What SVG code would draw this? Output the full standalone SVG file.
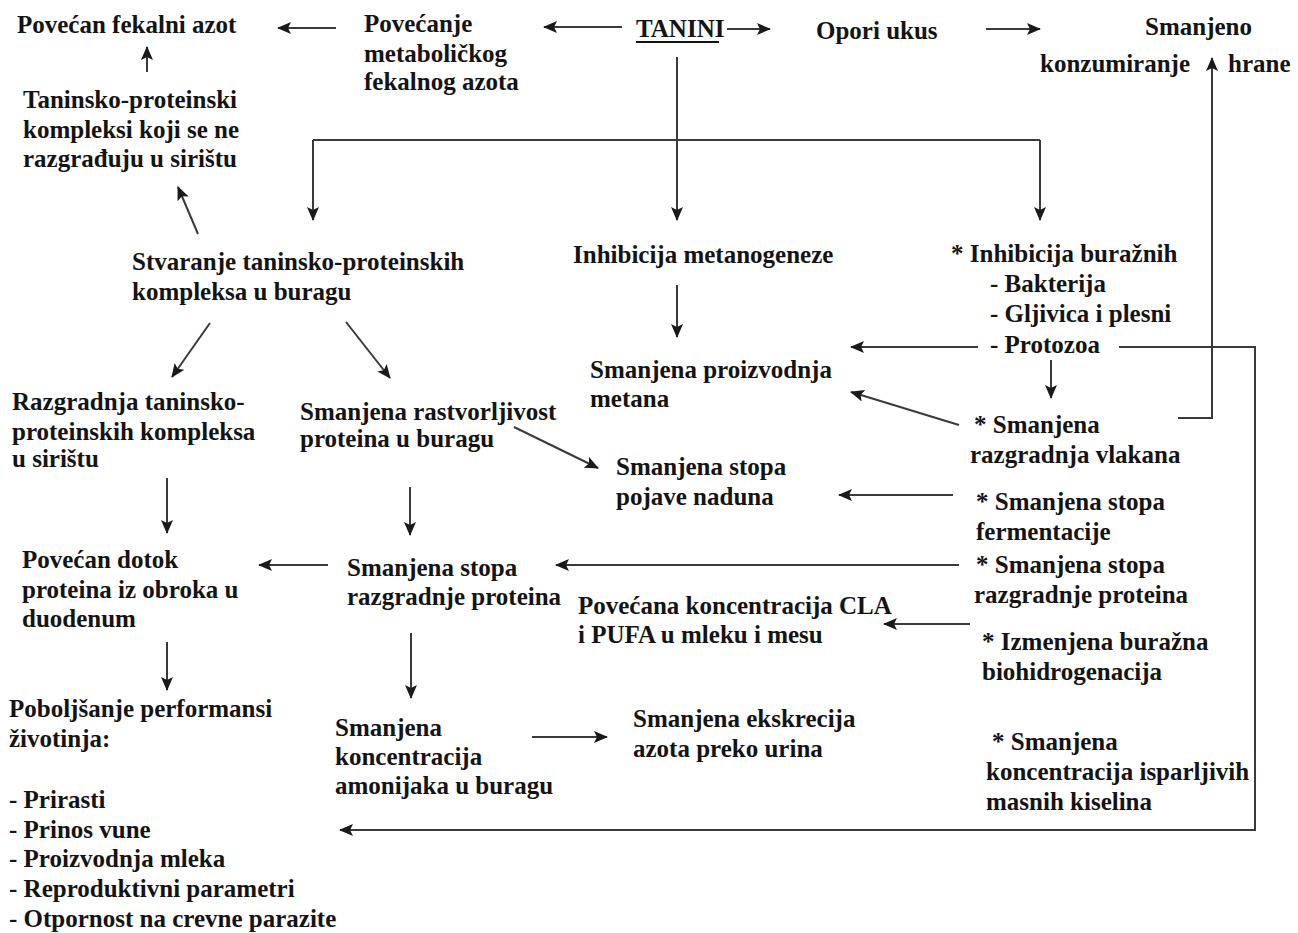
<svg xmlns="http://www.w3.org/2000/svg" width="1298" height="933" viewBox="0 0 1298 933">
<defs>
<style>
text{font-family:"Liberation Serif","Times New Roman",serif;font-weight:bold;font-size:25px;fill:#141414}
.c path,.c line{stroke:#3a3a3a;stroke-width:2;fill:none}
.a{marker-end:url(#ah)}
</style>
<marker id="ah" viewBox="0 0 14 12" refX="13" refY="6" markerWidth="14" markerHeight="12" markerUnits="userSpaceOnUse" orient="auto">
<path d="M0,0 L14,6 L0,12 L3,6 Z" fill="#1a1a1a"/>
</marker>
</defs>
<rect width="1298" height="933" fill="#fff"/>
<g class="c" id="connectors">
<line class="a" x1="336" y1="28" x2="278" y2="28"/>
<line class="a" x1="622" y1="27" x2="544" y2="27"/>
<line class="a" x1="727" y1="29" x2="770" y2="29"/>
<line class="a" x1="986" y1="29" x2="1040" y2="29"/>
<line class="a" x1="147" y1="72" x2="147" y2="47"/>
<line class="a" x1="198" y1="234" x2="178" y2="187"/>
<path d="M313,140 H1040"/>
<line class="a" x1="313" y1="140" x2="313" y2="220"/>
<line class="a" x1="1040" y1="140" x2="1040" y2="220"/>
<line class="a" x1="677" y1="57" x2="677" y2="220"/>
<line class="a" x1="677" y1="285" x2="677" y2="337"/>
<line class="a" x1="210" y1="323" x2="172" y2="377"/>
<line class="a" x1="346" y1="322" x2="390" y2="378"/>
<line class="a" x1="514" y1="427" x2="598" y2="468"/>
<line class="a" x1="978" y1="347" x2="851" y2="347"/>
<line class="a" x1="1051" y1="360" x2="1051" y2="398"/>
<line class="a" x1="959" y1="425" x2="851" y2="392"/>
<path class="a" d="M1178,418 H1212 V58"/>
<path class="a" d="M1119,347 H1255 V830 H340"/>
<line class="a" x1="953" y1="495" x2="839" y2="495"/>
<line class="a" x1="959" y1="565" x2="556" y2="565"/>
<line class="a" x1="970" y1="624" x2="884" y2="624"/>
<line class="a" x1="167" y1="478" x2="167" y2="533"/>
<line class="a" x1="410" y1="487" x2="410" y2="535"/>
<line class="a" x1="328" y1="565" x2="259" y2="565"/>
<line class="a" x1="167" y1="642" x2="167" y2="690"/>
<line class="a" x1="411" y1="633" x2="411" y2="698"/>
<line class="a" x1="532" y1="737" x2="607" y2="737"/>
</g>
<g id="n-fekalni"><text x="17" y="33">Povećan fekalni azot</text></g>
<g id="n-metabolicki"><text x="364" y="32">Povećanje</text><text x="364" y="62">metaboličkog</text><text x="364" y="90">fekalnog azota</text></g>
<g id="n-tanini"><text x="636" y="37">TANINI</text><line x1="636" y1="42" x2="719" y2="42" stroke="#141414" stroke-width="2"/></g>
<g id="n-opori"><text x="816" y="39">Opori ukus</text></g>
<g id="n-konzumiranje"><text x="1145" y="35">Smanjeno</text><text x="1040" y="72">konzumiranje</text><text x="1228" y="72">hrane</text></g>
<g id="n-kompleksi-sirište"><text x="23" y="108">Taninsko-proteinski</text><text x="23" y="138">kompleksi koji se ne</text><text x="23" y="167">razgrađuju u sirištu</text></g>
<g id="n-stvaranje"><text x="132" y="270">Stvaranje taninsko-proteinskih</text><text x="132" y="300">kompleksa u buragu</text></g>
<g id="n-metanogeneza"><text x="573" y="263">Inhibicija metanogeneze</text></g>
<g id="n-inhibicija"><text x="951" y="262">* Inhibicija buražnih</text><text x="990" y="292">- Bakterija</text><text x="990" y="322">- Gljivica i plesni</text><text x="990" y="353">- Protozoa</text></g>
<g id="n-metan"><text x="590" y="378">Smanjena proizvodnja</text><text x="590" y="407">metana</text></g>
<g id="n-razgradnja-kompleksa"><text x="12" y="410">Razgradnja taninsko-</text><text x="12" y="440">proteinskih kompleksa</text><text x="12" y="467">u sirištu</text></g>
<g id="n-rastvorljivost"><text x="300" y="420">Smanjena rastvorljivost</text><text x="300" y="447">proteina u buragu</text></g>
<g id="n-nadun"><text x="616" y="475">Smanjena stopa</text><text x="616" y="505">pojave naduna</text></g>
<g id="n-vlakna"><text x="974" y="433">* Smanjena</text><text x="970" y="463">razgradnja vlakana</text></g>
<g id="n-fermentacija"><text x="976" y="510">* Smanjena stopa</text><text x="976" y="540">fermentacije</text></g>
<g id="n-razgradnja-proteina-r"><text x="976" y="573">* Smanjena stopa</text><text x="974" y="603">razgradnje proteina</text></g>
<g id="n-cla"><text x="578" y="614">Povećana koncentracija CLA</text><text x="578" y="643">i PUFA u mleku i mesu</text></g>
<g id="n-biohidrogenacija"><text x="982" y="650">* Izmenjena buražna</text><text x="982" y="680">biohidrogenacija</text></g>
<g id="n-urin"><text x="633" y="727">Smanjena ekskrecija</text><text x="633" y="757">azota preko urina</text></g>
<g id="n-vfa"><text x="992" y="750">* Smanjena</text><text x="986" y="780">koncentracija isparljivih</text><text x="986" y="810">masnih kiselina</text></g>
<g id="n-dotok"><text x="22" y="568">Povećan dotok</text><text x="22" y="598">proteina iz obroka u</text><text x="22" y="627">duodenum</text></g>
<g id="n-razgradnja-proteina"><text x="347" y="576">Smanjena stopa</text><text x="347" y="605">razgradnje proteina</text></g>
<g id="n-amonijak"><text x="335" y="736">Smanjena</text><text x="335" y="765">koncentracija</text><text x="335" y="794">amonijaka u buragu</text></g>
<g id="n-performanse"><text x="9" y="717">Poboljšanje performansi</text><text x="9" y="747">životinja:</text><text x="9" y="808">- Prirasti</text><text x="9" y="838">- Prinos vune</text><text x="9" y="867">- Proizvodnja mleka</text><text x="9" y="897">- Reproduktivni parametri</text><text x="9" y="927">- Otpornost na crevne parazite</text></g>
</svg>
